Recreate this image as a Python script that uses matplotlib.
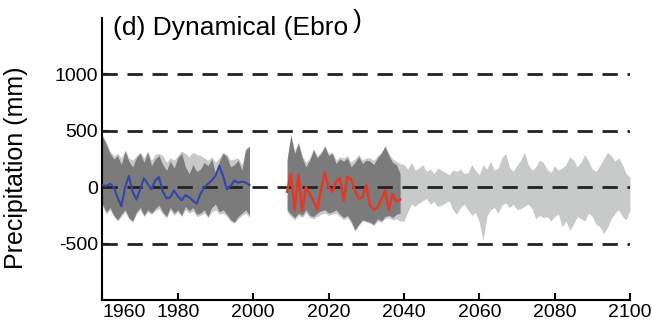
import matplotlib
matplotlib.use("Agg")
import matplotlib.pyplot as plt
import numpy as np

plt.rcParams['font.family'] = ['Liberation Sans', 'DejaVu Sans']
plt.rcParams['lines.scale_dashes'] = False
plt.rcParams['axes.unicode_minus'] = False

# historical period (1960-1999)
hist_years = np.arange(1960, 2000)
hist_obs = [18, 10, 30, 0, -90, -170, 0, 100, -40, -110, -20, 80, 30, -20, 60, 90, -40, -100, -90, -30,
            -80, -116, -70, -90, -120, -146, -60, 0, 30, 60, 100, 190, 100, -20, 10, 60, 40, 50, 40, 20]
hist_dark_hi = [450, 380, 300, 250, 280, 200, 320, 230, 180, 260, 300, 220, 310, 190, 250, 280, 200, 150, 230, 170,
                260, 300, 180, 120, 200, 140, 160, 220, 190, 250, 120, 230, 300, 270, 180, 200, 240, 150, 330, 360]
hist_dark_lo = [-150, -220, -180, -250, -290, -240, -200, -270, -300, -220, -180, -250, -200, -230, -190, -160, -220, -260, -180, -230,
                -200, -250, -170, -210, -180, -240, -230, -200, -260, -180, -150, -220, -200, -240, -290, -310, -260, -230, -200, -250]
hist_light_hi = [460, 400, 320, 280, 300, 260, 330, 260, 240, 280, 310, 260, 320, 240, 290, 300, 280, 220, 260, 240,
                 280, 320, 300, 270, 310, 290, 280, 260, 240, 270, 220, 260, 310, 290, 240, 250, 260, 200, 340, 370]
hist_light_lo = [-170, -240, -200, -260, -300, -260, -220, -280, -310, -240, -200, -260, -220, -240, -210, -190, -240, -270, -200, -250,
                 -220, -260, -200, -230, -210, -260, -250, -230, -270, -220, -200, -240, -230, -260, -300, -320, -280, -250, -230, -270]

# near future (2009-2039)
fut_years = np.arange(2009, 2040)
fut_sim = [-40, 120, -200, 110, -210, 0, -60, -120, -200, -20, 130, 0, -40, 50, 80, -120, 90, 70, -30, -100,
           -90, 20, -160, -200, -180, -110, -30, -200, -60, -130, -110]
fut_dark_hi = [240, 460, 300, 390, 260, 180, 240, 330, 260, 300, 360, 280, 300, 210, 250, 230, 260, 180, 220, 270,
               210, 240, 230, 200, 260, 300, 360, 280, 220, 200, 120]
fut_dark_lo = [-200, -240, -270, -230, -250, -200, -250, -260, -230, -210, -200, -230, -220, -200, -240, -270, -250, -300, -380, -330,
               -290, -300, -310, -330, -280, -300, -260, -250, -270, -240, -230]

# projection range (2009-2100)
proj_years = np.arange(2009, 2101)
proj_hi = [250, 470, 320, 400, 280, 220, 260, 340, 280, 310, 370, 300, 310, 240, 270, 260, 280, 220, 250, 290,
           240, 260, 260, 240, 280, 310, 370, 300, 250, 230, 210,
           200, 160, 220, 150, 170, 200, 140, 160, 120, 170, 150, 130, 110, 150, 140, 160, 120, 130, 200, 150,
           110, 200, 160, 230, 150, 170, 260, 300, 180, 140, 190, 240, 310, 200, 150, 180, 240, 220, 160, 130,
           190, 150, 170, 200, 270, 240, 180, 220, 290, 230, 160, 140, 190, 250, 310, 280, 230, 260, 200, 120, 90]
proj_lo = [-220, -260, -290, -250, -270, -230, -270, -280, -260, -240, -230, -250, -240, -230, -260, -290, -270, -320, -390, -340,
           -300, -310, -320, -340, -300, -310, -280, -270, -290, -280, -300,
           -300, -220, -150, -170, -140, -120, -100, -150, -130, -170, -160, -140, -120, -200, -240, -180, -150, -200, -250, -220,
           -310, -470, -260, -200, -180, -230, -160, -140, -180, -150, -200, -190, -170, -150, -190, -280, -250, -270, -260, -300,
           -260, -240, -350, -300, -380, -330, -260, -280, -300, -230, -260, -330, -350, -410, -360, -280, -230, -200, -260, -290, -200]

grid_levels = [-500, 0, 500, 1000]
xticks = [1960, 1980, 2000, 2020, 2040, 2060, 2080, 2100]

light = '#c8c9c9'
dark = '#7b7b7b'

fig = plt.figure(figsize=(6.52, 3.31), dpi=100)
ax = fig.add_axes([0.1572, 0.0937, 0.809, 0.852])

ax.fill_between(hist_years, hist_light_lo, hist_light_hi, color=light, lw=0, zorder=1)
ax.fill_between(proj_years, proj_lo, proj_hi, color=light, lw=0, zorder=1)
ax.fill_between(hist_years, hist_dark_lo, hist_dark_hi, color=dark, lw=0, zorder=2)
ax.fill_between(fut_years, fut_dark_lo, fut_dark_hi, color=dark, lw=0, zorder=2)

for lev in grid_levels:
    ax.axhline(lev, color='#222222', lw=2.0, linestyle=(0, (11, 7)), zorder=3)

ax.plot(hist_years, hist_obs, color='#3347a8', lw=1.5, zorder=4)
ax.plot(fut_years, fut_sim, color='#e23a26', lw=1.8, zorder=4)

ax.set_xlim(1960, 2100)
ax.set_ylim(-1000, 1500)
ax.set_xticks(xticks)
ax.set_yticks(grid_levels)
ax.tick_params(direction='in', length=5, width=1.5, labelsize=14, pad=3)
for lab in ax.get_xticklabels()[:1]:
    lab.set_horizontalalignment('left')
for s in ['top', 'right']:
    ax.spines[s].set_visible(False)
for s in ['left', 'bottom']:
    ax.spines[s].set_linewidth(1.5)

fig.text(16 / 652, 1 - 168 / 331, 'Precipitation (mm)', rotation=90, fontsize=18,
         ha='center', va='center')
t = ax.text(0.02, 0.94, '(d) Dynamical (Ebro', transform=ax.transAxes, fontsize=19, va='baseline')
ax.annotate(')', xy=(1, 0), xycoords=t, xytext=(3, 5), textcoords='offset points',
            fontsize=19, va='bottom')

fig.savefig('out.png', dpi=100)
